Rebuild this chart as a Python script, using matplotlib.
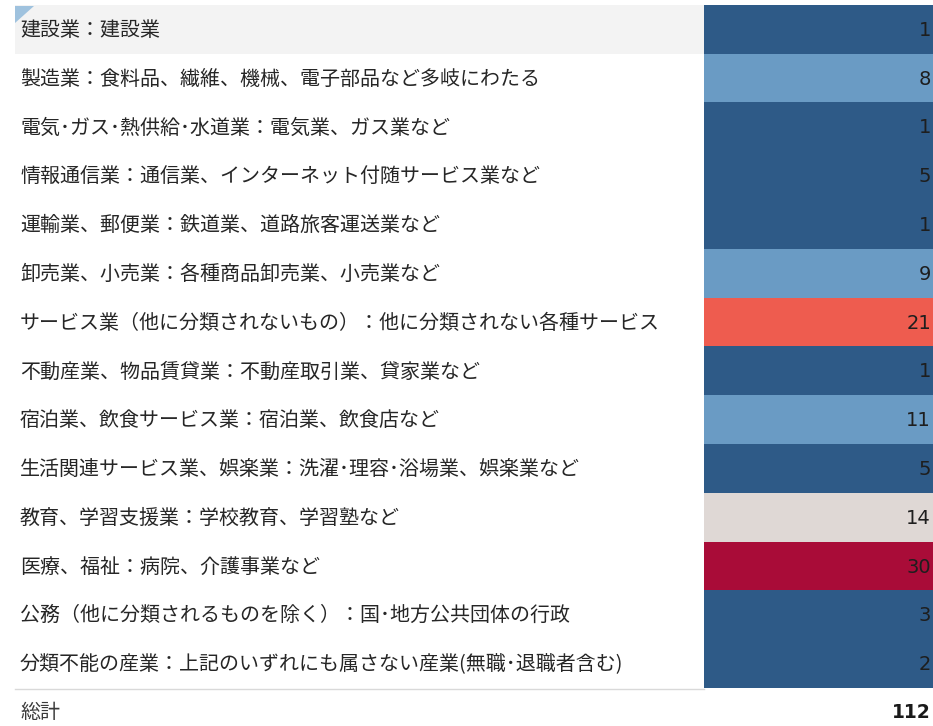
import matplotlib
matplotlib.use("Agg")
import matplotlib.pyplot as plt
import numpy as np
from matplotlib.colors import ListedColormap, BoundaryNorm
from matplotlib.patches import Rectangle, Polygon
from matplotlib.lines import Line2D
import matplotlib.transforms as mtransforms

plt.rcParams['font.family'] = ['Noto Sans CJK JP', 'DejaVu Sans']

categories = [
    "建設業：建設業",
    "製造業：食料品、繊維、機械、電子部品など多岐にわたる",
    "電気･ガス･熱供給･水道業：電気業、ガス業など",
    "情報通信業：通信業、インターネット付随サービス業など",
    "運輸業、郵便業：鉄道業、道路旅客運送業など",
    "卸売業、小売業：各種商品卸売業、小売業など",
    "サービス業（他に分類されないもの）：他に分類されない各種サービス",
    "不動産業、物品賃貸業：不動産取引業、貸家業など",
    "宿泊業、飲食サービス業：宿泊業、飲食店など",
    "生活関連サービス業、娯楽業：洗濯･理容･浴場業、娯楽業など",
    "教育、学習支援業：学校教育、学習塾など",
    "医療、福祉：病院、介護事業など",
    "公務（他に分類されるものを除く）：国･地方公共団体の行政",
    "分類不能の産業：上記のいずれにも属さない産業(無職･退職者含む)",
]
values = [1, 8, 1, 5, 1, 9, 21, 1, 11, 5, 14, 30, 3, 2]
total_label = "総計"
total_value = sum(values)

palette = ["#2e5a87", "#6a9bc4", "#dfd8d5", "#ee5c4f", "#a90c38"]
bounds = [0, 6, 12, 18, 24, 31]

W, H = 933, 726
fig = plt.figure(figsize=(W / 100, H / 100), dpi=100)
fig.patch.set_facecolor("white")

top_px, bot_px = 5, 688
col_left = 704
ax = fig.add_axes([col_left / W, 1 - bot_px / H, (W - col_left) / W, (bot_px - top_px) / H])
cmap = ListedColormap(palette)
norm = BoundaryNorm(bounds, cmap.N)
data = np.array(values).reshape(-1, 1)
ax.imshow(data, cmap=cmap, norm=norm, aspect="auto", interpolation="nearest",
          extent=(0, 1, len(values) - 0.5, -0.5))
ax.set_xlim(0, 1)
ax.set_ylim(len(values) - 0.5, -0.5)
ax.axis("off")

lab_tr = mtransforms.blended_transform_factory(fig.transFigure, ax.transData)

# highlighted first row
hl = Rectangle((15 / W, -0.5), (col_left - 15) / W, 1.0, transform=lab_tr,
               facecolor="#f3f3f3", edgecolor="none", zorder=0)
fig.add_artist(hl)
tri = Polygon([(15 / W, 1 - 6 / H), (34 / W, 1 - 6 / H), (15 / W, 1 - 23 / H)],
              closed=True, transform=fig.transFigure, facecolor="#9fc2de",
              edgecolor="none", zorder=1)
fig.add_artist(tri)

for i, (c, v) in enumerate(zip(categories, values)):
    fig.text(20 / W, i + 0.02, c, transform=lab_tr, ha="left", va="center",
             fontsize=14.4, color="#262626")
    fig.text(931 / W, i + 0.02, str(v), transform=lab_tr, ha="right", va="center",
             fontsize=14, family="DejaVu Sans", color="#1e1e1e")

# separator line and total row
fig.add_artist(Line2D([15 / W, col_left / W], [1 - (bot_px + 1) / H] * 2,
                      transform=fig.transFigure, color="#d9d9d9", lw=1))
fig.text(20 / W, len(values), total_label, transform=lab_tr, ha="left",
         va="center", fontsize=14.4, color="#3a3a3a")
fig.text(931 / W, len(values), str(total_value), transform=lab_tr,
         ha="right", va="center", fontsize=13.5, family="DejaVu Sans",
         fontweight="bold", color="#1a1a1a")

fig.savefig("out.png", dpi=100, facecolor="white")
